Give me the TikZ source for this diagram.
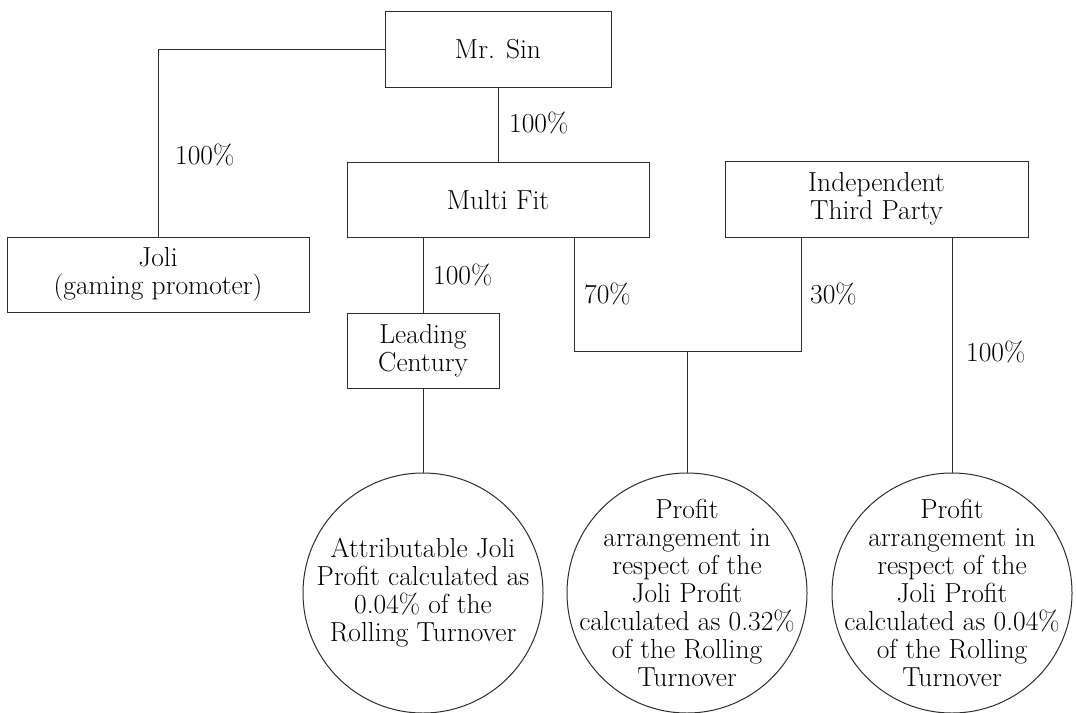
\documentclass[tikz,border=0pt]{standalone}
\usepackage{tikz}
\usetikzlibrary{positioning}
\usepackage{xcolor}
\definecolor{linegray}{RGB}{45,45,45}

\tikzset{
  entity/.style={draw=linegray, line width=1pt, align=center, inner sep=0pt},
  share/.style={anchor=west, inner sep=0pt},
  payout/.style={draw=linegray, line width=1pt, circle, minimum size=240pt, inner sep=0pt},
  payouttext/.style={align=center, inner sep=0pt},
  link/.style={draw=linegray, line width=1pt}
}

\begin{document}
\begin{tikzpicture}[x=1pt, y=-1pt, font=\fontsize{27.5}{28}\selectfont]
\useasboundingbox (0,0) rectangle (1076,712);

% holding entities
\node[entity, minimum width=226pt, minimum height=76pt] (sin) at (498,49) {Mr. Sin};
\node[entity, minimum width=302pt, minimum height=75pt] (multifit) at (498,200) {Multi Fit};
\node[entity, minimum width=303pt, minimum height=76pt] (third) at (876.5,199) {Independent\\Third Party};
\node[entity, minimum width=302pt, minimum height=75pt] (joli) at (158,274.5) {Joli\\(gaming promoter)};
\node[entity, minimum width=152pt, minimum height=75pt] (leading) at (423,350.5) {Leading\\Century};

% profit arrangements
\node[payout, label={[payouttext]center:{Attributable Joli\\Profit calculated as\\0.04\% of the\\Rolling Turnover}}] (prof1) at (423,593) {};
\node[payout, label={[payouttext]center:{Profit\\arrangement in\\respect of the\\Joli Profit\\calculated as 0.32\%\\of the Rolling\\Turnover}}] (prof2) at (687,593) {};
\node[payout, label={[payouttext]center:{Profit\\arrangement in\\respect of the\\Joli Profit\\calculated as 0.04\%\\of the Rolling\\Turnover}}] (prof3) at (952,593) {};

% ownership lines
\coordinate (mfleg) at ([xshift=76pt]multifit.south);
\coordinate (tpleg) at ([xshift=-75.5pt]third.south);
\coordinate (tpright) at ([xshift=75.5pt]third.south);
\coordinate (join) at (687,351);
\draw[link] (sin.west) -| (joli.north);
\draw[link] (sin.south) -- (multifit.north);
\draw[link] (leading.north) -- (leading.north |- multifit.south);
\draw[link] (mfleg) -- (mfleg |- join) -- (tpleg |- join) -- (tpleg);
\draw[link] (join) -- (prof2.north);
\draw[link] (leading.south) -- (prof1.north);
\draw[link] (tpright) -- (prof3.north);

% percentages
\node[share] (pjoli) at (175,155) {100\%};
\node[share] (pmulti) at (509,123) {100\%};
\node[share] (plead) at (433,275) {100\%};
\node[share] (p70) at (584,294) {70\%};
\node[share] (p30) at (810,294) {30\%};
\node[share] (pthird) at (966,352) {100\%};
\end{tikzpicture}
\end{document}
